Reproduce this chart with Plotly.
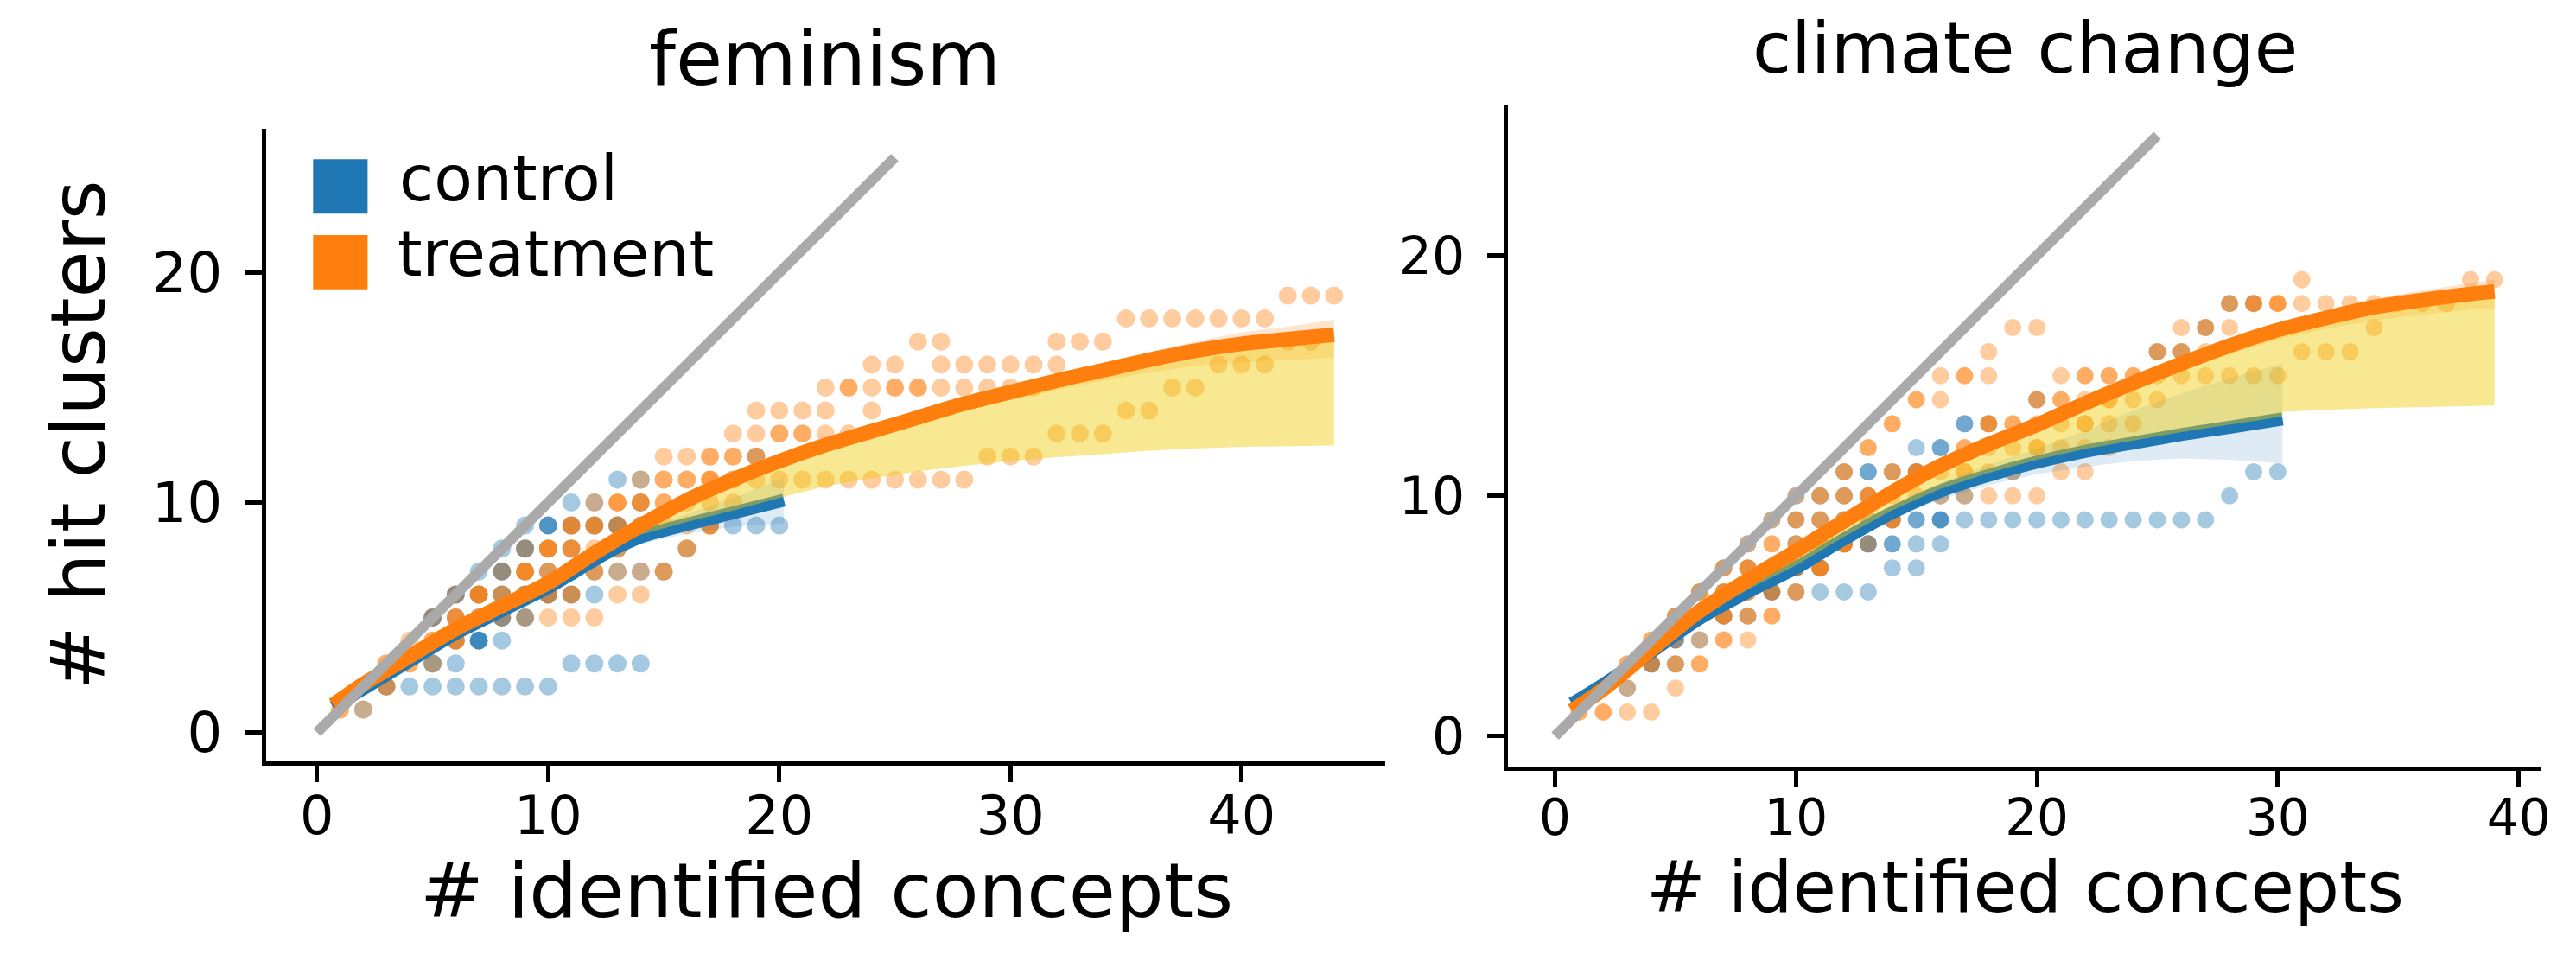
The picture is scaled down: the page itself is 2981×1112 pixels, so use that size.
import plotly.graph_objects as go

# ---------------- data ----------------
# scatter points: (concepts, clusters, number of participants at that point)
fem_ctrl = [(2,1,1),
    (3,2,2),(4,2,1),(5,2,1),(6,2,1),(7,2,1),(8,2,1),(9,2,1),(10,2,1),
    (5,3,2),(6,3,1),(11,3,1),(12,3,1),(13,3,1),(14,3,1),
    (6,4,2),(7,4,4),(8,4,1),
    (5,5,3),(6,5,1),(7,5,1),(8,5,3),(9,5,2),
    (6,6,3),(7,6,2),(8,6,2),(9,6,2),(10,6,3),(11,6,2),(12,6,1),
    (7,7,1),(8,7,3),(9,7,1),(10,7,1),(11,7,2),(12,7,1),(13,7,1),(14,7,1),(15,7,1),
    (8,8,1),(9,8,3),(10,8,1),(11,8,1),(13,8,1),(16,8,1),
    (9,9,1),(10,9,3),(11,9,2),(12,9,2),(13,9,3),(14,9,1),(17,9,1),(18,9,1),(19,9,1),(20,9,1),
    (11,10,1),(12,10,1),(14,10,1),
    (13,11,1),(14,11,1),
    (19,12,1)]

fem_trt = [(1,1,2),(2,1,1),
    (2,2,1),(3,2,2),
    (3,3,2),(4,3,2),(5,3,1),
    (4,4,1),(5,4,2),(6,4,3),
    (5,5,1),(6,5,3),(7,5,2),(8,5,1),(9,5,1),(10,5,1),(11,5,1),(12,5,1),
    (6,6,1),(7,6,4),(8,6,2),(9,6,2),(10,6,2),(11,6,2),(13,6,1),(14,6,1),
    (8,7,1),(9,7,4),(10,7,2),(11,7,1),(12,7,2),(13,7,1),(14,7,1),(15,7,2),
    (9,8,1),(10,8,4),(11,8,3),(12,8,1),(13,8,2),(16,8,2),
    (11,9,3),(12,9,3),(13,9,2),(14,9,1),(15,9,1),(16,9,1),(17,9,3),
    (12,10,1),(13,10,3),(14,10,3),(15,10,2),(16,10,1),(17,10,1),(18,10,1),
    (14,11,1),(15,11,2),(16,11,2),(17,11,3),(18,11,2),(19,11,1),(20,11,1),(21,11,1),
    (22,11,1),(23,11,1),(24,11,1),(25,11,1),(26,11,1),(27,11,1),(28,11,1),
    (15,12,1),(16,12,1),(17,12,2),(18,12,2),(19,12,2),(29,12,1),(30,12,1),(31,12,1),
    (18,13,1),(19,13,1),(20,13,2),(21,13,2),(22,13,1),(23,13,1),(32,13,1),(33,13,1),(34,13,1),
    (19,14,1),(20,14,1),(21,14,1),(22,14,1),(24,14,1),(35,14,1),(36,14,1),
    (22,15,1),(23,15,2),(24,15,1),(25,15,2),(26,15,2),(27,15,1),(28,15,1),(29,15,1),
    (30,15,1),(31,15,1),(37,15,1),(38,15,1),
    (24,16,1),(25,16,1),(27,16,1),(28,16,1),(29,16,1),(30,16,1),(31,16,1),(32,16,1),
    (39,16,1),(40,16,1),(41,16,1),
    (26,17,1),(27,17,1),(32,17,1),(33,17,1),(34,17,1),(42,17,1),(43,17,1),
    (35,18,1),(36,18,1),(37,18,1),(38,18,1),(39,18,1),(40,18,1),(41,18,1),
    (42,19,1),(43,19,1),(44,19,1)]

cc_ctrl = [(3,2,1),
    (4,3,3),(5,3,1),
    (5,4,3),(6,4,1),
    (5,5,1),(6,5,1),(7,5,2),(8,5,1),
    (6,6,1),(7,6,1),(8,6,1),(9,6,3),(10,6,1),(11,6,1),(12,6,1),(13,6,1),
    (7,7,1),(8,7,1),(9,7,1),(10,7,3),(11,7,2),(14,7,1),(15,7,1),
    (8,8,1),(10,8,1),(11,8,1),(12,8,2),(13,8,3),(14,8,2),(15,8,1),(16,8,1),
    (9,9,1),(10,9,1),(11,9,1),(12,9,1),(13,9,1),(14,9,2),(15,9,2),(16,9,3),
    (17,9,1),(18,9,1),(19,9,1),(20,9,1),(21,9,1),(22,9,1),(23,9,1),(24,9,1),
    (25,9,1),(26,9,1),(27,9,1),
    (10,10,1),(11,10,1),(12,10,1),(13,10,1),(16,10,1),(17,10,1),(28,10,1),
    (12,11,1),(13,11,2),(14,11,1),(15,11,2),(19,11,1),(29,11,1),(30,11,1),
    (15,12,1),(16,12,2),
    (17,13,2),(18,13,1),
    (20,14,1),
    (25,16,1),(26,16,1),
    (27,17,1),
    (28,18,1),(29,18,1)]

cc_trt = [(1,1,2),(2,1,2),(3,1,1),(4,1,1),
    (3,2,1),(5,2,1),
    (3,3,2),(4,3,2),(5,3,2),(6,3,2),
    (4,4,2),(5,4,1),(6,4,1),(7,4,2),(8,4,1),
    (5,5,2),(6,5,3),(7,5,3),(8,5,2),(9,5,2),
    (6,6,2),(7,6,3),(8,6,2),(9,6,2),(10,6,2),
    (7,7,2),(8,7,3),(9,7,2),(10,7,2),(11,7,4),
    (8,8,1),(9,8,2),(10,8,2),(11,8,2),(12,8,4),(13,8,1),
    (9,9,1),(10,9,2),(11,9,2),(12,9,2),(13,9,1),(14,9,3),
    (10,10,1),(11,10,2),(12,10,2),(13,10,3),(14,10,1),(15,10,1),(16,10,1),(17,10,1),
    (18,10,1),(19,10,1),(20,10,1),
    (12,11,2),(14,11,2),(15,11,3),(16,11,1),(17,11,2),(18,11,1),(19,11,1),(21,11,1),(22,11,1),
    (13,12,2),(17,12,2),(18,12,1),(19,12,1),(20,12,2),(21,12,1),(22,12,1),(23,12,1),
    (14,13,2),(18,13,3),(19,13,2),(20,13,1),(21,13,1),(22,13,2),(23,13,1),(24,13,1),
    (15,14,2),(16,14,1),(20,14,2),(21,14,2),(22,14,1),(23,14,2),(24,14,1),(25,14,1),
    (16,15,1),(17,15,2),(18,15,1),(21,15,1),(22,15,2),(23,15,2),(24,15,2),(25,15,1),
    (26,15,1),(27,15,1),(28,15,1),(29,15,1),(30,15,1),
    (18,16,1),(25,16,2),(26,16,2),(27,16,1),(31,16,1),(32,16,1),(33,16,1),
    (19,17,1),(20,17,1),(26,17,1),(27,17,2),(28,17,1),(34,17,1),
    (28,18,2),(29,18,3),(30,18,3),(31,18,1),(32,18,1),(33,18,1),(34,18,1),(35,18,1),
    (36,18,1),(37,18,1),
    (31,19,1),(38,19,1),(39,19,1)]

# fitted curves
fem_t_x   = [0.7, 2, 4, 6, 8, 10, 12, 14, 16, 18, 20, 22, 24, 26, 28, 30, 32, 34, 36, 38, 40, 42, 44]
fem_t_fit = [1.2, 2.1, 3.3, 4.5, 5.5, 6.5, 7.8, 9.0, 10.1, 11.0, 11.8, 12.5, 13.1, 13.7, 14.3, 14.8,
             15.3, 15.75, 16.2, 16.6, 16.9, 17.1, 17.3]
fem_t_hi  = [1.5, 2.3, 3.45, 4.65, 5.65, 6.65, 7.95, 9.15, 10.25, 11.15, 11.95, 12.65, 13.3, 13.9,
             14.5, 15.05, 15.55, 16.05, 16.55, 17.0, 17.4, 17.65, 17.95]
fem_t_lo  = [0.9, 1.9, 3.15, 4.35, 5.35, 6.35, 7.65, 8.85, 9.95, 10.85, 11.6, 12.3, 12.85, 13.45,
             14.0, 14.45, 14.9, 15.3, 15.65, 15.95, 16.1, 16.2, 16.3]
fem_c_x   = [0.7, 2, 4, 6, 8, 10, 12, 13, 14, 16, 18, 20.2]
fem_c_fit = [1.1, 1.9, 3.1, 4.3, 5.3, 6.3, 7.5, 8.05, 8.5, 9.05, 9.55, 10.1]
fem_c_hi  = [1.4, 2.1, 3.25, 4.45, 5.45, 6.5, 7.75, 8.3, 8.8, 9.5, 10.2, 11.1]
fem_c_lo  = [0.8, 1.7, 2.95, 4.15, 5.15, 6.1, 7.25, 7.8, 8.2, 8.65, 8.95, 9.1]
fem_gap_x  = [0.7, 2, 4, 6, 8, 10, 12, 13, 14, 16, 18, 20.2, 22, 24, 26, 28, 30, 32, 34, 36, 38, 40, 42, 44]
fem_gap_lo = [1.2, 2.0, 3.2, 4.4, 5.4, 6.4, 7.6, 8.15, 8.6, 9.15, 9.65, 10.25, 10.7, 11.05, 11.35,
              11.6, 11.8, 11.97, 12.1, 12.25, 12.35, 12.42, 12.46, 12.48]

cc_t_x   = [0.7, 2, 4, 6, 8, 10, 12, 14, 16, 18, 20, 22, 24, 26, 28, 30, 32, 34, 36, 38, 39]
cc_t_fit = [1.05, 1.95, 3.6, 5.2, 6.5, 7.7, 8.95, 10.15, 11.25, 12.15, 12.95, 13.85, 14.7, 15.5, 16.25,
            16.9, 17.4, 17.85, 18.15, 18.4, 18.5]
cc_t_hi  = [1.35, 2.15, 3.75, 5.35, 6.65, 7.85, 9.1, 10.3, 11.4, 12.3, 13.15, 14.05, 14.9, 15.75,
            16.5, 17.2, 17.7, 18.2, 18.55, 18.85, 19.0]
cc_t_lo  = [0.75, 1.75, 3.45, 5.05, 6.35, 7.55, 8.8, 10.0, 11.1, 12.0, 12.75, 13.6, 14.45, 15.2,
            15.9, 16.5, 16.95, 17.3, 17.55, 17.75, 17.8]
cc_c_x   = [0.7, 2, 4, 6, 8, 10, 12, 14, 16, 18, 20, 22, 24, 26, 28, 30.2]
cc_c_fit = [1.35, 2.15, 3.5, 4.9, 6.0, 7.0, 8.2, 9.3, 10.2, 10.85, 11.4, 11.85, 12.2, 12.55, 12.85, 13.2]
cc_c_hi  = [1.65, 2.35, 3.65, 5.05, 6.15, 7.15, 8.4, 9.55, 10.55, 11.3, 11.95, 12.7, 13.55, 14.25, 14.9, 15.5]
cc_c_lo  = [1.05, 1.95, 3.35, 4.75, 5.85, 6.85, 8.0, 9.05, 9.85, 10.45, 10.9, 11.2, 11.45, 11.55, 11.5, 11.35]
cc_gap_x  = [0.7, 2, 4, 6, 8, 10, 12, 14, 16, 18, 20, 22, 24, 26, 28, 30.2, 30.2, 32, 34, 36, 38, 39]
cc_gap_lo = [1.4, 2.2, 3.55, 4.95, 6.1, 7.1, 8.3, 9.4, 10.3, 10.95, 11.5, 11.95, 12.3, 12.65, 12.95,
             13.3, 13.5, 13.58, 13.65, 13.7, 13.74, 13.76]

diag = [0, 25]
x_ticks = [0, 10, 20, 30, 40]
y_ticks = [0, 10, 20]
titles = ["feminism", "climate change"]
x_label = "# identified concepts"
y_label = "# hit clusters"
groups = ["control", "treatment"]

BLUE = "#1f77b4"
ORANGE = "#ff7f0e"
FONT = "DejaVu Sans"

fig = go.Figure()


def add_panel(xa, ya, ctrl, trt, msize, t_x, t_fit, t_hi, t_lo, c_x, c_fit, c_hi, c_lo, g_x, g_lo):
    for pts, col in ((ctrl, BLUE), (trt, ORANGE)):
        fig.add_trace(go.Scatter(
            x=[p[0] for p in pts], y=[p[1] for p in pts], mode="markers", xaxis=xa, yaxis=ya,
            marker=dict(color=col, size=msize, opacity=[1 - 0.6 ** p[2] for p in pts],
                        line=dict(width=0)),
            showlegend=False, hoverinfo="skip"))
    # confidence bands
    fig.add_trace(go.Scatter(x=c_x + c_x[::-1], y=c_hi + c_lo[::-1], fill="toself",
                             fillcolor="rgba(31,119,180,0.15)", line=dict(width=0), mode="lines",
                             xaxis=xa, yaxis=ya, showlegend=False, hoverinfo="skip"))
    fig.add_trace(go.Scatter(x=t_x + t_x[::-1], y=t_hi + t_lo[::-1], fill="toself",
                             fillcolor="rgba(255,127,14,0.2)", line=dict(width=0), mode="lines",
                             xaxis=xa, yaxis=ya, showlegend=False, hoverinfo="skip"))
    # control fit
    fig.add_trace(go.Scatter(x=c_x, y=c_fit, mode="lines",
                             line=dict(color=BLUE, width=15, shape="spline", smoothing=0.8),
                             xaxis=xa, yaxis=ya, showlegend=False, hoverinfo="skip"))
    # gap band between fits
    fig.add_trace(go.Scatter(x=t_x + g_x[::-1], y=t_fit + g_lo[::-1], fill="toself",
                             fillcolor="rgba(240,205,10,0.45)", line=dict(width=0), mode="lines",
                             xaxis=xa, yaxis=ya, showlegend=False, hoverinfo="skip"))
    # treatment fit
    fig.add_trace(go.Scatter(x=t_x, y=t_fit, mode="lines",
                             line=dict(color=ORANGE, width=17, shape="spline", smoothing=0.8),
                             xaxis=xa, yaxis=ya, showlegend=False, hoverinfo="skip"))
    # identity line
    fig.add_trace(go.Scatter(x=diag, y=diag, mode="lines", line=dict(color="#aaaaaa", width=12),
                             xaxis=xa, yaxis=ya, showlegend=False, hoverinfo="skip"))


add_panel("x", "y", fem_ctrl, fem_trt, 21, fem_t_x, fem_t_fit, fem_t_hi, fem_t_lo,
          fem_c_x, fem_c_fit, fem_c_hi, fem_c_lo, fem_gap_x, fem_gap_lo)
add_panel("x2", "y2", cc_ctrl, cc_trt, 20, cc_t_x, cc_t_fit, cc_t_hi, cc_t_lo,
          cc_c_x, cc_c_fit, cc_c_hi, cc_c_lo, cc_gap_x, cc_gap_lo)

W, H = 2981, 1112


def axis(domain, rng, ticks, fs, standoff):
    return dict(domain=domain, range=rng, tickvals=ticks, ticks="outside", ticklen=19, tickwidth=5,
                tickcolor="black", showline=True, linewidth=5, linecolor="black", showgrid=False,
                zeroline=False, tickfont=dict(family=FONT, size=fs, color="black"), fixedrange=True,
                ticklabelstandoff=standoff)


fig.update_layout(
    width=W, height=H, autosize=False, margin=dict(l=0, r=0, t=0, b=0),
    paper_bgcolor="white", plot_bgcolor="white", showlegend=False,
    xaxis=axis([301 / W, 1600 / W], [-2.2, 46.2], x_ticks, 62, -14),
    yaxis=axis([1 - 876 / H, 1 - 141.6 / H], [-1.25, 26.25], y_ticks, 64, 14),
    xaxis2=axis([1743 / W, 2943 / W], [-1.95, 40.95], x_ticks, 58, -14),
    yaxis2=axis([1 - 881.7 / H, 1 - 114.3 / H], [-1.25, 26.25], y_ticks, 60, 14),
)
fig.layout.xaxis2.anchor = "y2"
fig.layout.yaxis2.anchor = "x2"

ann = []
ann.append(dict(text=titles[0], x=950 / W, y=1 - 60 / H, font=dict(size=88)))
ann.append(dict(text=titles[1], x=2343 / W, y=1 - 48 / H, font=dict(size=82), borderpad=0))
ann.append(dict(text=x_label, x=952 / W, y=1 - 1026 / H, font=dict(size=88)))
ann.append(dict(text=x_label, x=2343 / W, y=1 - 1022 / H, font=dict(size=82), borderpad=0))
ann.append(dict(text=y_label, x=82 / W, y=1 - 497 / H, font=dict(size=88), textangle=-90))
ann.append(dict(text=groups[0], x=453.5 / W, y=1 - 199 / H, font=dict(size=73), xanchor="left"))
ann.append(dict(text=groups[1], x=452 / W, y=1 - 287 / H, font=dict(size=73), xanchor="left"))
for a in ann:
    a.setdefault("xanchor", "center")
    a.update(xref="paper", yref="paper", yanchor="middle", showarrow=False)
    a["font"].update(family=FONT, color="black")
fig.update_layout(annotations=ann)

# legend patches
fig.add_shape(type="rect", xref="paper", yref="paper", x0=355.5 / W, x1=418.8 / W,
              y0=1 - 240 / H, y1=1 - 177 / H, fillcolor=BLUE, line=dict(width=0))
fig.add_shape(type="rect", xref="paper", yref="paper", x0=355.5 / W, x1=418.8 / W,
              y0=1 - 328 / H, y1=1 - 265 / H, fillcolor=ORANGE, line=dict(width=0))

fig.write_html("out.html")
